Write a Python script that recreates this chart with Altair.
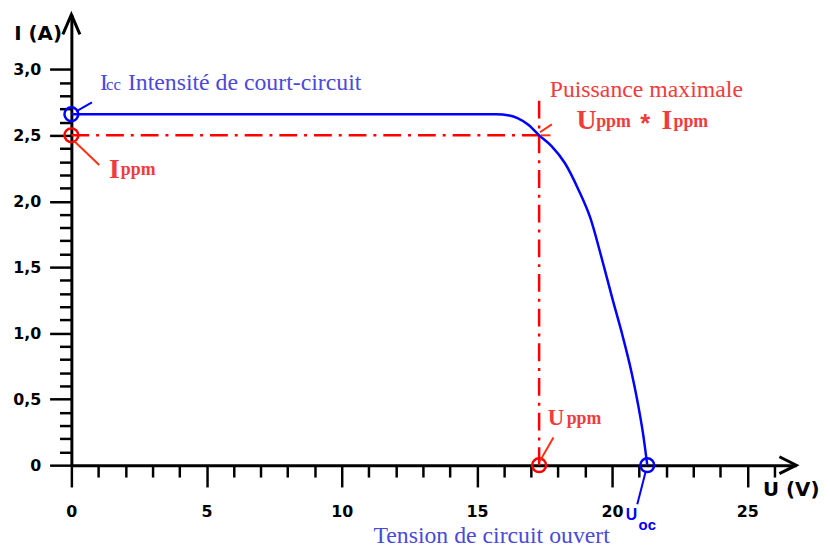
import altair as alt
import pandas as pd

# ---- I(U) characteristic of the solar panel ----
U_curve = [0.0, 15.0, 15.7, 16.2, 16.5, 16.9, 17.3, 17.75, 18.25, 18.75, 19.2,
           19.6, 20.0, 20.4, 20.7, 20.95, 21.15, 21.3]
I_curve = [2.66, 2.66, 2.66, 2.65, 2.63, 2.58, 2.50, 2.42, 2.29, 2.09, 1.87,
           1.58, 1.27, 0.97, 0.72, 0.47, 0.23, 0.0]

I_cc = 2.66      # short-circuit current
U_oc = 21.3      # open-circuit voltage
U_ppm = 17.3     # voltage at max power point
I_ppm = 2.5      # current at max power point
I_guide_top = 2.77
U_end = 26.81    # end of U axis (arrow tip)
I_end = 3.415    # end of I axis (arrow tip)

y_ticks = [round(0.1 * k, 1) for k in range(31)]
x_ticks = list(range(27))

RED = "#ff0000"
RED_TXT = "#f03c3c"
RED_LEAD = "#ff3010"
BLUE = "#0000ff"
BLUE_TXT = "#4a4ad8"

# annotations: text, u, i, size, colour, style
ann_text = ["I", "cc", "Intensité de court-circuit", "Tension de circuit ouvert",
            "Puissance maximale",
            "U", "ppm", "*", "I", "ppm",
            "I", "ppm",
            "U", "ppm",
            "U", "oc"]
ann_u = [1.06, 1.28, 2.09, 11.17,
         17.69,
         18.68, 19.41, 21.04, 21.83, 22.27,
         1.39, 1.83,
         17.62, 18.32,
         20.5, 20.98]
ann_i = [2.845, 2.845, 2.845, -0.59,
         2.793,
         2.545, 2.560, 2.526, 2.545, 2.560,
         2.178, 2.200,
         0.302, 0.310,
         -0.418, -0.493]
ann_size = [24, 17, 24, 24,
            24,
            28, 18, 26, 28, 18,
            28, 18,
            23, 18,
            16, 15]
ann_color = [BLUE_TXT, BLUE_TXT, BLUE_TXT, BLUE_TXT,
             RED_TXT,
             RED_TXT, RED_TXT, RED_TXT, RED_TXT, RED_TXT,
             RED_TXT, RED_TXT,
             RED_TXT, RED_TXT,
             BLUE, BLUE]
ann_style = ["serif", "serif", "serif", "serif",
             "serif",
             "serifb", "serifb", "sansb", "serifb", "serifb",
             "serifb", "serifb",
             "serifb", "serifb",
             "sansb", "sansb"]

# leader lines
lead_u = [0.18, 0.11, 17.33, 17.36, 17.83, 21.23]
lead_i = [2.682, 2.455, 2.523, 2.50, 0.210, -0.058]
lead_u2 = [0.76, 1.03, 17.77, 17.72, 17.33, 20.93]
lead_i2 = [2.750, 2.275, 2.583, 2.50, 0.032, -0.296]
lead_color = [BLUE, RED_LEAD, RED_LEAD, RED_LEAD, RED_LEAD, BLUE]

curve = pd.DataFrame({"u": U_curve, "i": I_curve})
circles = pd.DataFrame({"u": [0, 0, U_ppm, U_oc], "i": [I_cc, I_ppm, 0, 0],
                        "color": [BLUE, RED, RED, BLUE]})
guides = pd.DataFrame({"u": [0, U_ppm], "i": [I_ppm, 0],
                       "u2": [U_ppm, U_ppm], "i2": [I_ppm, I_guide_top]})
texts = pd.DataFrame({"text": ann_text, "u": ann_u, "i": ann_i, "size": ann_size,
                      "color": ann_color, "style": ann_style})
leads = pd.DataFrame({"u": lead_u, "i": lead_i, "u2": lead_u2, "i2": lead_i2,
                      "color": lead_color})
arrow_y = pd.DataFrame({"u": [0], "i": [I_end]})
arrow_x = pd.DataFrame({"u": [U_end], "i": [0]})

xscale = alt.Scale(domain=[0, U_end], nice=False, zero=False)
yscale = alt.Scale(domain=[0, I_end], nice=False, zero=False)

common_axis = dict(
    grid=False, domainColor="black", domainWidth=3, tickColor="black", tickWidth=2.5,
    labelFont="DejaVu Sans", labelFontWeight="bold", labelFontSize=16, labelColor="black",
    labelOverlap=False, labelFlush=False,
    titleFont="DejaVu Sans", titleFontWeight="bold", titleFontSize=20, titleColor="black",
    titleAngle=0, titleBaseline="middle",
)

xaxis = alt.Axis(
    values=x_ticks, title="U (V)",
    tickSize=alt.ExprRef(expr="datum.value % 5 == 0 ? 22 : 12"),
    labelExpr="datum.value % 5 == 0 ? format(datum.value, 'd') : ''",
    labelPadding=17, titleX=698, titleY=25, titleAlign="left",
    **common_axis,
)
yaxis = alt.Axis(
    values=y_ticks, title="I (A)",
    tickSize=alt.ExprRef(expr="round(datum.value * 10) % 5 == 0 ? 22 : 12"),
    labelExpr="round(datum.value * 10) % 5 == 0 ? (datum.value == 0 ? '0' : replace(format(datum.value, '.1f'), '.', ',')) : ''",
    labelPadding=9, titleX=-10, titleY=19, titleAlign="right",
    **common_axis,
)


def X():
    return alt.X("u:Q", scale=xscale, axis=xaxis)


def Y():
    return alt.Y("i:Q", scale=yscale, axis=yaxis)


line = alt.Chart(curve).mark_line(color=BLUE, strokeWidth=2.5, interpolate="monotone").encode(
    x=X(), y=Y())

guide_lines = alt.Chart(guides).mark_rule(color=RED, strokeWidth=2.5,
                                          strokeDash=[18, 7, 3, 7]).encode(
    x=X(), y=Y(), x2="u2:Q", y2="i2:Q")

circle_marks = alt.Chart(circles).mark_point(shape="circle", filled=False, size=196,
                                             strokeWidth=2.5, opacity=1).encode(
    x=X(), y=Y(), color=alt.Color("color:N", scale=None))

lead_lines = alt.Chart(leads).mark_rule(strokeWidth=2).encode(
    x=X(), y=Y(), x2="u2:Q", y2="i2:Q", color=alt.Color("color:N", scale=None))


def text_layer(style, font, weight):
    return alt.Chart(texts).transform_filter(alt.datum.style == style).mark_text(
        font=font, fontWeight=weight, align="left", baseline="alphabetic").encode(
        x=X(), y=Y(), text="text:N",
        size=alt.Size("size:Q", scale=None),
        color=alt.Color("color:N", scale=None))


t_serif = text_layer("serif", "Liberation Serif", "normal")
t_serifb = text_layer("serifb", "Liberation Serif", "bold")
t_sansb = text_layer("sansb", "Liberation Sans", "bold")

arrow_up = alt.Chart(arrow_y).mark_point(
    shape="M -0.43 1 L 0 0 L 0.43 1", filled=False, size=1600, strokeWidth=3,
    color="black", opacity=1, strokeJoin="miter").encode(x=X(), y=Y())
arrow_right = alt.Chart(arrow_x).mark_point(
    shape="M -1 -0.5 L 0 0 L -1 0.5", filled=False, size=1156, strokeWidth=3,
    color="black", opacity=1, strokeJoin="miter").encode(x=X(), y=Y())

chart = alt.layer(
    guide_lines, line, circle_marks, lead_lines, t_serif, t_serifb, t_sansb,
    arrow_up, arrow_right,
).properties(
    width=732, height=455,
    autosize=alt.AutoSizeParams(type="none"),
    padding={"left": 64, "top": 4, "right": 26, "bottom": 82},
    background="white",
).configure_view(stroke=None)

chart.save("out.html", embed_options={"renderer": "svg", "actions": False})
